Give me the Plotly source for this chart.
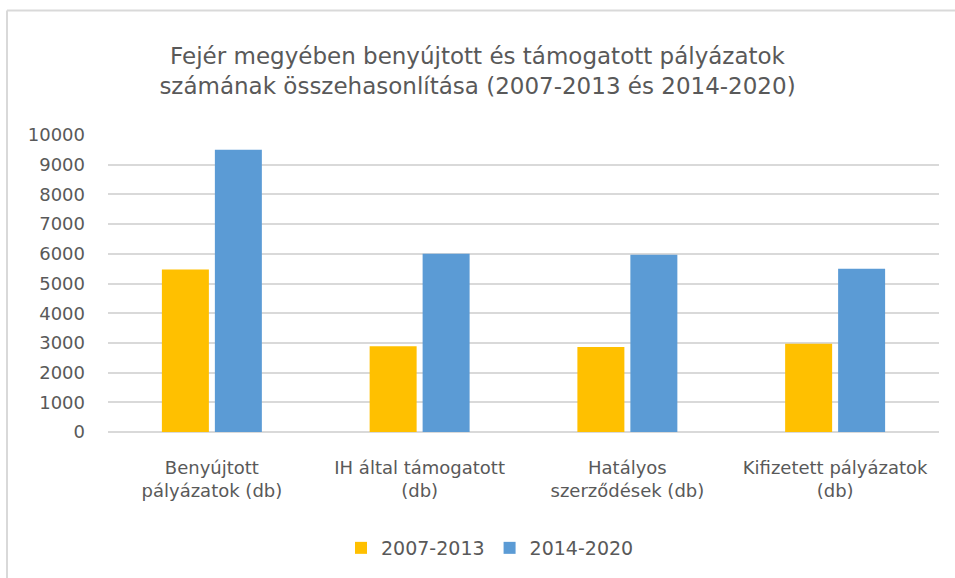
import plotly.graph_objects as go

# Pályázati adatok két programozási időszakra
categories = [
    "Benyújtott<br>pályázatok (db)",
    "IH által támogatott<br>(db)",
    "Hatályos<br>szerződések (db)",
    "Kifizetett pályázatok<br>(db)",
]
series_names = ["2007-2013", "2014-2020"]
values_2007_2013 = [5470, 2890, 2860, 2970]
values_2014_2020 = [9500, 6000, 5970, 5500]
y_ticks = [0, 1000, 2000, 3000, 4000, 5000, 6000, 7000, 8000, 9000, 10000]
y_tick_labels = [str(v) for v in y_ticks]

text_color = "#595959"
grid_color = "#d9d9d9"
font_family = "DejaVu Sans"

fig = go.Figure()
fig.add_trace(go.Bar(name=series_names[0], x=categories, y=values_2007_2013,
                     marker=dict(color="#FFC000", line=dict(width=0))))
fig.add_trace(go.Bar(name=series_names[1], x=categories, y=values_2014_2020,
                     marker=dict(color="#5B9BD5", line=dict(width=0))))

W, H = 955, 578
ml, mr, mt, mb = 108, 16, 135, 145
pw, ph = W - ml - mr, H - mt - mb


def px_x(x):
    return (x - ml) / pw


def px_y(y):
    return (H - mb - y) / ph


fig.update_layout(
    width=W, height=H,
    margin=dict(l=ml, r=mr, t=mt, b=mb, pad=0),
    paper_bgcolor="white", plot_bgcolor="white",
    barmode="group", bargap=0.49, bargroupgap=0.113,
    font=dict(family=font_family, color=text_color, size=18),
    title=dict(
        text="Fejér megyében benyújtott és támogatott pályázatok<br>"
             "számának összehasonlítása (2007-2013 és 2014-2020)",
        x=0.5, xref="container", xanchor="center",
        y=1 - 64 / H, yref="container", yanchor="middle",
        font=dict(family=font_family, size=23, color=text_color),
    ),
    xaxis=dict(
        showgrid=False, showline=False, ticks="", zeroline=False,
        tickfont=dict(size=18, color=text_color),
        ticklabelstandoff=23,
    ),
    yaxis=dict(
        range=[0, 10000], tickvals=y_ticks, ticktext=y_tick_labels,
        showgrid=True, gridcolor=grid_color, gridwidth=1.5,
        zeroline=True, zerolinecolor=grid_color, zerolinewidth=1.5,
        showline=False, ticks="",
        tickfont=dict(size=18, color=text_color),
        ticklabelstandoff=22,
    ),
    legend=dict(
        orientation="h", x=px_x(490), xanchor="center", xref="paper",
        y=px_y(548), yanchor="middle",
        font=dict(size=19, color=text_color),
        itemwidth=30, traceorder="normal",
    ),
    showlegend=True,
)

# Keret: felső és bal oldali szegély
fig.add_shape(type="line", xref="paper", yref="paper",
              x0=px_x(7), x1=px_x(W + 5), y0=px_y(10), y1=px_y(10),
              line=dict(color=grid_color, width=2))
fig.add_shape(type="line", xref="paper", yref="paper",
              x0=px_x(7), x1=px_x(7), y0=px_y(10), y1=px_y(H + 5),
              line=dict(color=grid_color, width=2))

fig.write_html("out.html")
